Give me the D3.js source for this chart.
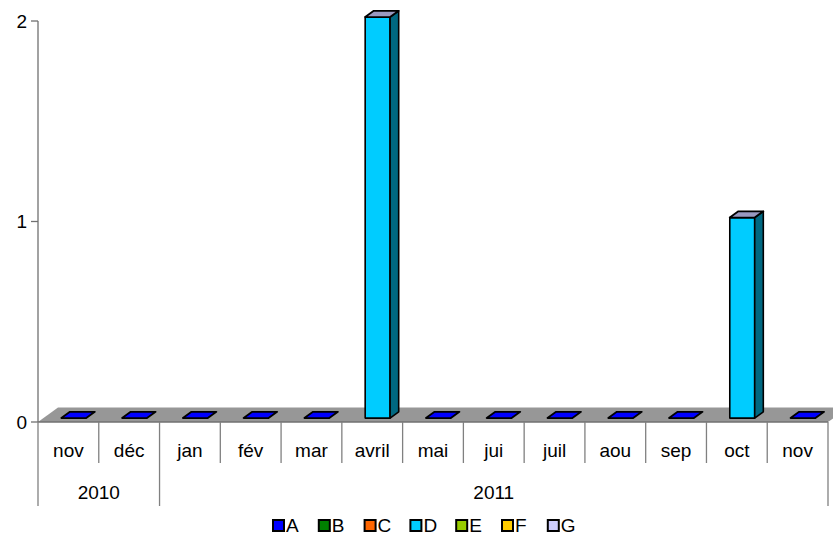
<!DOCTYPE html>
<html>
<head>
<meta charset="utf-8">
<script src="https://cdn.jsdelivr.net/npm/d3@7"></script>
<style>
  body { margin: 0; background: #fff; }
  svg text { font-family: Arial, "Liberation Sans", sans-serif; fill: #000; }
</style>
</head>
<body>
<div id="chart"></div>
<script>
const width = 833;
const height = 537;

// data
const months = ["nov", "déc", "jan", "fév", "mar", "avril", "mai", "jui", "juil", "aou", "sep", "oct", "nov"];
const years = [
    { label: "2010", start: 0, end: 2 },
    { label: "2011", start: 2, end: 13 }
];
const seriesNames = ["A", "B", "C", "D", "E", "F", "G"];
const seriesColors = ["#0000FF", "#008000", "#FF6600", "#00CCFF", "#99CC00", "#FFCC00", "#CCCCFF"];
const valuesA = [0, 0, 0, 0, 0, 0, 0, 0, 0, 0, 0, 0, 0];
const valuesB = [0, 0, 0, 0, 0, 0, 0, 0, 0, 0, 0, 0, 0];
const valuesC = [0, 0, 0, 0, 0, 0, 0, 0, 0, 0, 0, 0, 0];
const valuesD = [0, 0, 0, 0, 0, 2, 0, 0, 0, 0, 0, 1, 0];
const valuesE = [0, 0, 0, 0, 0, 0, 0, 0, 0, 0, 0, 0, 0];
const valuesF = [0, 0, 0, 0, 0, 0, 0, 0, 0, 0, 0, 0, 0];
const valuesG = [0, 0, 0, 0, 0, 0, 0, 0, 0, 0, 0, 0, 0];
const yTicks = [0, 1, 2];

const allValues = [valuesA, valuesB, valuesC, valuesD, valuesE, valuesF, valuesG];

const plotLeft = 38, plotRight = 828, plotTop = 21, plotBase = 422;
const depth = { x: 20, y: -14.5 };   // floor depth vector
const barFront = 0.27, barBack = 0.7;  // bar position inside the floor depth

const svg = d3.select("#chart")
    .append("svg")
    .attr("width", width)
    .attr("height", height);

const x = d3.scaleBand()
    .domain(d3.range(months.length))
    .range([plotLeft, plotRight])
    .padding(0);

const y = d3.scaleLinear()
    .domain([0, 2])
    .range([plotBase, plotTop]);

// floor
svg.append("path")
    .attr("d", d3.line()([
        [plotLeft, plotBase], [plotRight, plotBase],
        [plotRight + depth.x, plotBase + depth.y], [plotLeft + depth.x, plotBase + depth.y]
    ]))
    .attr("fill", "#979797");

// stacked data
const stack = d3.stack()
    .keys(d3.range(seriesNames.length))
    .value((d, k) => allValues[k][d]);
const stacked = stack(d3.range(months.length));

const fx = barFront * depth.x, fy = barFront * depth.y;
const bx = barBack * depth.x, by = barBack * depth.y;
const barW = x.bandwidth() * 0.41;

const barGroup = svg.append("g").attr("class", "bars");

months.forEach((m, i) => {
    const x0 = x(i) + x.bandwidth() / 2 - barW / 2 + fx;
    const x1 = x0 + barW;
    let total = 0;
    stacked.forEach((layer, k) => {
        const [v0, v1] = layer[i];
        if (v1 - v0 <= 0) return;
        const yb = y(v0) + fy, yt = y(v1) + fy;
        const color = d3.color(seriesColors[k]);
        // front face
        barGroup.append("path")
            .attr("d", d3.line()([[x0, yb], [x1, yb], [x1, yt], [x0, yt]]) + "Z")
            .attr("fill", color.formatHex())
            .attr("stroke", "#000").attr("stroke-width", 1.6).attr("stroke-linejoin", "round");
        // side face
        barGroup.append("path")
            .attr("d", d3.line()([[x1, yb], [x1 + bx - fx, yb + by - fy], [x1 + bx - fx, yt + by - fy], [x1, yt]]) + "Z")
            .attr("fill", color.darker(1.9).formatHex())
            .attr("stroke", "#000").attr("stroke-width", 1.6).attr("stroke-linejoin", "round");
        total = v1;
    });
    // top face
    const yt = y(total) + fy;
    const topColor = total > 0
        ? d3.color(seriesColors[seriesColors.length - 1]).darker(0.8).formatHex()
        : seriesColors[0];
    barGroup.append("path")
        .attr("d", d3.line()([[x0, yt], [x1, yt], [x1 + bx - fx, yt + by - fy], [x0 + bx - fx, yt + by - fy]]) + "Z")
        .attr("fill", topColor)
        .attr("stroke", "#000").attr("stroke-width", 1.8).attr("stroke-linejoin", "round");
});

// value axis
svg.append("line")
    .attr("x1", plotLeft).attr("x2", plotLeft)
    .attr("y1", y(2)).attr("y2", plotBase)
    .attr("stroke", "#707070").attr("stroke-width", 1.3);

const yAxis = svg.append("g");
yTicks.forEach(t => {
    yAxis.append("line")
        .attr("x1", plotLeft - 7).attr("x2", plotLeft)
        .attr("y1", y(t)).attr("y2", y(t))
        .attr("stroke", "#707070").attr("stroke-width", 1.3);
    yAxis.append("text")
        .attr("x", 27).attr("y", y(t))
        .attr("dy", "0.36em")
        .attr("text-anchor", "end")
        .attr("font-size", 19)
        .text(t);
});

// category axis
svg.append("line")
    .attr("x1", plotLeft).attr("x2", plotRight)
    .attr("y1", plotBase).attr("y2", plotBase)
    .attr("stroke", "#707070").attr("stroke-width", 1.3);

const catAxis = svg.append("g");
const yearBounds = new Set(years.flatMap(yr => [yr.start, yr.end]));
d3.range(months.length + 1).forEach(i => {
    const xx = i < months.length ? x(i) : plotRight;
    catAxis.append("line")
        .attr("x1", xx).attr("x2", xx)
        .attr("y1", plotBase).attr("y2", yearBounds.has(i) ? 506 : 463)
        .attr("stroke", "#808080").attr("stroke-width", 1.3);
});

months.forEach((m, i) => {
    catAxis.append("text")
        .attr("x", x(i) + x.bandwidth() / 2)
        .attr("y", 450)
        .attr("dy", "0.36em")
        .attr("text-anchor", "middle")
        .attr("font-size", 19)
        .text(m);
});

years.forEach(yr => {
    const xs = x(yr.start);
    const xe = yr.end < months.length ? x(yr.end) : plotRight;
    catAxis.append("text")
        .attr("x", (xs + xe) / 2)
        .attr("y", 492)
        .attr("dy", "0.36em")
        .attr("text-anchor", "middle")
        .attr("font-size", 19)
        .text(yr.label);
});

// legend
const legend = svg.append("g").attr("transform", "translate(272,519)");
seriesNames.forEach((s, k) => {
    const g = legend.append("g").attr("transform", `translate(${k * 45.8},0)`);
    g.append("rect")
        .attr("x", 1).attr("y", 1)
        .attr("width", 11).attr("height", 11)
        .attr("fill", seriesColors[k])
        .attr("stroke", "#000").attr("stroke-width", 2);
    g.append("text")
        .attr("x", 14).attr("y", 6.5)
        .attr("dy", "0.36em")
        .attr("font-size", 19)
        .text(s);
});
</script>
</body>
</html>
